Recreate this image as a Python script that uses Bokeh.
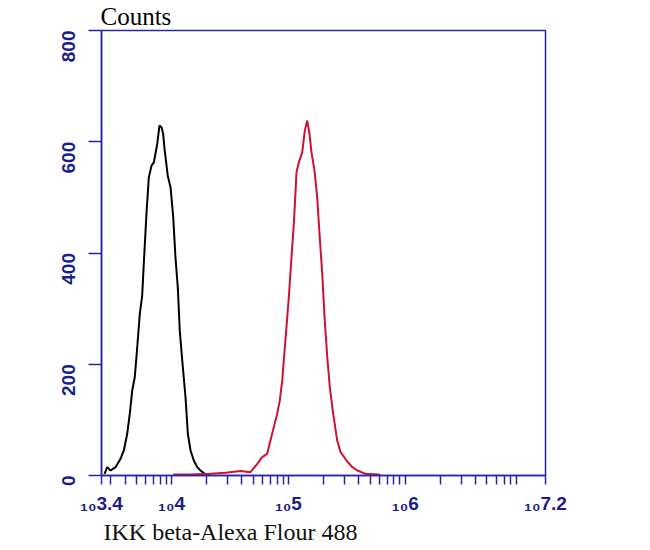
import math
from bokeh.plotting import figure
from bokeh.models import FixedTicker, Title
from bokeh.embed import file_html
from bokeh.resources import INLINE

# ---- data (x as log10 of fluorescence intensity, y as counts) ----
control_log = [3.426, 3.449, 3.477, 3.520, 3.563, 3.591, 3.620, 3.642, 3.663, 3.685,
               3.706, 3.728, 3.748, 3.762, 3.785, 3.805, 3.828, 3.848, 3.877, 3.896,
               3.914, 3.928, 3.939, 3.967, 3.991, 4.014, 4.033, 4.053, 4.070, 4.091,
               4.119, 4.139, 4.162, 4.190, 4.219, 4.247, 4.290, 4.333]
control_counts = [3, 15, 9, 15, 30, 45, 75, 111, 153, 177,
                  231, 291, 323, 381, 471, 536, 557, 563, 596, 629,
                  626, 614, 588, 539, 518, 464, 392, 338, 260, 207,
                  141, 75, 45, 27, 15, 9, 2, 0]

ikk_log = [4.016, 4.162, 4.333, 4.461, 4.590, 4.675, 4.733, 4.775, 4.818, 4.846,
           4.875, 4.904, 4.926, 4.947, 4.960, 4.981, 5.003, 5.024, 5.046, 5.069,
           5.089, 5.118, 5.140, 5.161, 5.180, 5.197, 5.223, 5.246, 5.266, 5.289,
           5.309, 5.332, 5.354, 5.383, 5.417, 5.446, 5.497, 5.546, 5.589, 5.660,
           5.771, 5.788]
ikk_counts = [2, 2, 3, 5, 8, 6, 21, 33, 39, 63,
              87, 111, 135, 171, 207, 261, 320, 386, 452, 545,
              563, 581, 620, 638, 614, 581, 548, 500, 434, 363,
              285, 213, 159, 111, 63, 42, 27, 15, 9, 3,
              2, 0]

x_major_exp = [3.4, 4, 5, 6, 7.2]
x_major_text = ["\u2081\u20803.4", "\u2081\u20804", "\u2081\u20805", "\u2081\u20806", "\u2081\u20807.2"]
y_ticks = [0, 200, 400, 600, 800]

x_label = "IKK beta-Alexa Flour 488"
y_label = "Counts"

AXIS = "#2626a6"
LBL = "#1c1c8c"

x_lo, x_hi = 10 ** 3.4, 10 ** 7.2
major = [10 ** e for e in x_major_exp]
minor = []
for d in range(3, 8):
    for k in range(2, 10):
        v = k * 10 ** d
        if x_lo < v < x_hi:
            minor.append(v)

p = figure(width=645, height=545, output_backend="svg", toolbar_location=None,
           x_axis_type="log", x_range=(x_lo, x_hi), y_range=(0, 800),
           min_border_left=101, min_border_right=100, min_border_top=30,
           min_border_bottom=70)
p.background_fill_color = "white"
p.border_fill_color = "white"
p.grid.visible = False
p.outline_line_color = AXIS
p.outline_line_width = 1.5

p.line([10 ** v for v in control_log], control_counts, line_color="black", line_width=2)
p.line([10 ** v for v in ikk_log], ikk_counts, line_color="#cc1133", line_width=2)

xa = p.xaxis[0]
xa.ticker = FixedTicker(ticks=major, minor_ticks=minor)
xa.major_label_overrides = {m: t for m, t in zip(major, x_major_text)}
xa.axis_line_color = AXIS
xa.axis_line_width = 1.5
xa.major_tick_line_color = AXIS
xa.minor_tick_line_color = AXIS
xa.major_tick_line_width = 1.5
xa.minor_tick_line_width = 1.5
xa.major_tick_in = 0
xa.major_tick_out = 9
xa.minor_tick_in = 0
xa.minor_tick_out = 9
xa.major_label_text_color = LBL
xa.major_label_text_font = "Liberation Sans"
xa.major_label_text_font_size = "19px"
xa.major_label_text_font_style = "bold"
xa.major_label_standoff = 8

ya = p.yaxis[0]
ya.ticker = FixedTicker(ticks=y_ticks)
ya.axis_line_color = AXIS
ya.axis_line_width = 1.5
ya.major_tick_line_color = AXIS
ya.major_tick_line_width = 1.5
ya.major_tick_in = 0
ya.major_tick_out = 13
ya.minor_tick_line_color = None
ya.major_label_orientation = math.pi / 2
ya.major_label_text_color = LBL
ya.major_label_text_font = "Liberation Sans"
ya.major_label_text_font_size = "19px"
ya.major_label_text_font_style = "bold"
ya.major_label_standoff = 20

p.title.text = y_label
p.title.align = "left"
p.title.offset = -1
p.title.standoff = 1
p.title.text_font = "Liberation Serif"
p.title.text_font_size = "25px"
p.title.text_font_style = "normal"
p.title.text_color = "black"

p.add_layout(Title(text=x_label, align="left", offset=2, standoff=0,
                   text_font="Liberation Serif", text_font_size="24px",
                   text_font_style="normal", text_color="#111111"), "below")

open("out.html", "w").write(file_html(p, INLINE))
